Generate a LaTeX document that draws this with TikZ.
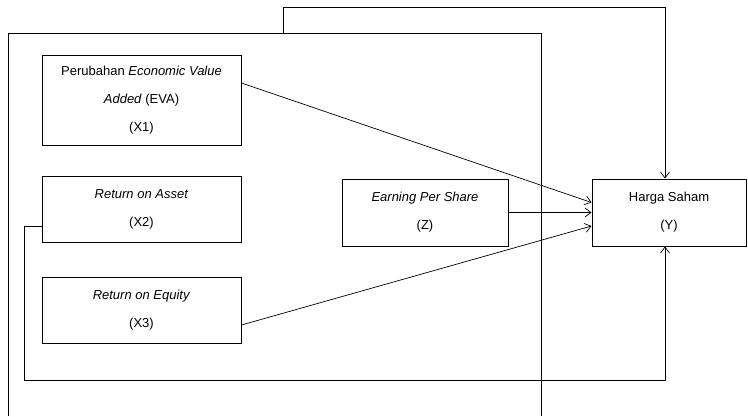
\documentclass[tikz,border=0pt]{standalone}
\usepackage{fontspec}
\setmainfont{Liberation Sans}
\usetikzlibrary{arrows.meta}
\tikzset{var/.style = {draw, line width = 0.9pt, inner sep = 0, align = center,
                       font = \fontsize{13}{28}\selectfont}}
\tikzset{pijl/.style = {-{Straight Barb[length = 6pt, width = 9pt]}, line width = 0.7pt}}
\tikzset{frame/.style = {line width = 0.8pt}}

\begin{document}
\begin{tikzpicture}[x = 1pt, y = -1pt]
      \useasboundingbox (0, 0) rectangle (748, 416);

      \draw [frame] (8, 416) -- (8, 33) -- (541, 33) -- (541, 416);

      \node [var, minimum width = 199pt, minimum height = 90pt] (X1) at (141.5, 100)
            {Perubahan \textit{Economic Value}\\\textit{Added} (EVA)\\(X1)};
      \node [var, minimum width = 199pt, minimum height = 66pt] (X2) at (141.5, 209)
            {\textit{Return on Asset}\\(X2)};
      \node [var, minimum width = 199pt, minimum height = 66pt] (X3) at (141.5, 310)
            {\textit{Return on Equity}\\(X3)};
      \node [var, minimum width = 166pt, minimum height = 67pt] (Z) at (425, 212.5)
            {\textit{Earning Per Share}\\(Z)};
      \node [var, minimum width = 154pt, minimum height = 67pt] (Y) at (669, 212.5)
            {Harga Saham\\(Y)};

      \coordinate (top) at (283, 33);

      \draw [pijl] ([yshift = 17pt] X1.east) -- ([yshift = 10pt] Y.west);
      \draw [pijl] (Z.east) -- (Y.west);
      \draw [pijl] ([yshift = -15pt] X3.east) -- ([yshift = -13.5pt] Y.west);
      \draw [pijl] (top) -- ++(0, -26) -| ([xshift = -4pt] Y.north);
      \draw [pijl] ([yshift = -17pt] X2.west) -- ++(-17, 0) -- ++(0, 154) -| ([xshift = -4pt] Y.south);
    \end{tikzpicture}
\end{document}
